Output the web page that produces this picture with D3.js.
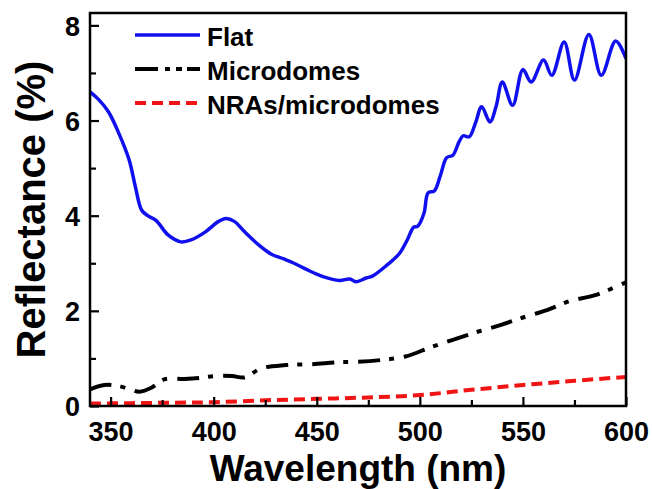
<!DOCTYPE html>
<html>
<head>
<meta charset="utf-8">
<script src="https://cdn.jsdelivr.net/npm/d3@7"></script>
<style>
  body { margin: 0; background: #fff; }
  svg text { font-family: "Liberation Sans", Arial, sans-serif; font-weight: bold; fill: #000; }
</style>
</head>
<body>
<svg id="chart"></svg>
<script>
// data
const flatWl = [340, 344, 349, 354, 359, 362, 365, 368, 372, 378, 384, 389, 396, 402, 406, 410, 415, 422, 428, 434, 439, 445, 453, 461, 466, 469, 474, 477, 484, 490, 494, 497, 499, 502, 504, 507, 510, 513, 516, 519, 521, 524, 527, 530, 534, 537, 540, 545, 550, 554, 560, 564, 570, 575, 582, 588, 595, 600];
const flatR  = [6.6, 6.45, 6.18, 5.73, 5.17, 4.61, 4.12, 4.0, 3.9, 3.59, 3.45, 3.49, 3.66, 3.87, 3.94, 3.88, 3.66, 3.38, 3.19, 3.09, 3.0, 2.87, 2.72, 2.64, 2.67, 2.61, 2.69, 2.73, 2.96, 3.2, 3.5, 3.76, 3.78, 4.05, 4.48, 4.52, 4.85, 5.22, 5.27, 5.55, 5.68, 5.66, 5.95, 6.29, 5.97, 6.3, 6.81, 6.32, 7.07, 6.81, 7.27, 6.95, 7.65, 6.85, 7.81, 6.95, 7.67, 7.3];

const microWl = [340, 347, 354, 360, 364, 370, 376, 386, 393, 401, 409, 415, 423, 435, 448, 460, 470, 482, 493, 505, 516, 528, 539, 550, 562, 573, 585, 600];
const microR  = [0.35, 0.44, 0.42, 0.34, 0.3, 0.39, 0.56, 0.57, 0.59, 0.63, 0.63, 0.6, 0.79, 0.86, 0.88, 0.92, 0.93, 0.97, 1.04, 1.23, 1.39, 1.56, 1.7, 1.86, 2.02, 2.21, 2.33, 2.6];

const nraWl = [340, 360, 380, 400, 425, 450, 475, 500, 525, 550, 575, 600];
const nraR  = [0.05, 0.06, 0.07, 0.08, 0.12, 0.15, 0.18, 0.23, 0.34, 0.44, 0.53, 0.61];

const seriesNames = ["Flat", "Microdomes", "NRAs/microdomes"];
const xMajor = [350, 400, 450, 500, 550, 600];
const xMinor = [375, 425, 475, 525, 575];
const yMajor = [0, 2, 4, 6, 8];
const yMinor = [1, 3, 5, 7];

const w = 652, h = 489;
const margin = { top: 13, right: 26, bottom: 83, left: 90 };

const svg = d3.select("#chart").attr("width", w).attr("height", h);

const xScale = d3.scaleLinear().domain([340, 600]).range([margin.left, w - margin.right]);
const yScale = d3.scaleLinear().domain([0, 8.26]).range([h - margin.bottom, margin.top]);

const series = [
  { name: seriesNames[0], wl: flatWl, r: flatR, color: "#1010ee", width: 3.5, dash: null, legendDash: null },
  { name: seriesNames[1], wl: microWl, r: microR, color: "#000", width: 4, dash: "22,9,5,10", legendDash: "23,7,5,6,6,5,30" },
  { name: seriesNames[2], wl: nraWl, r: nraR, color: "#f01414", width: 4, dash: "11,6", legendDash: "11,6" }
];

svg.append("clipPath").attr("id", "plotClip")
  .append("rect")
    .attr("x", margin.left).attr("y", margin.top)
    .attr("width", w - margin.left - margin.right)
    .attr("height", h - margin.top - margin.bottom);

const line = d3.line()
  .x(d => xScale(d[0]))
  .y(d => yScale(d[1]))
  .curve(d3.curveCatmullRom.alpha(0.5));

const plot = svg.append("g").attr("clip-path", "url(#plotClip)");
series.forEach(s => {
  plot.append("path")
    .datum(s.wl.map((v, i) => [v, s.r[i]]))
    .attr("fill", "none")
    .attr("stroke", s.color)
    .attr("stroke-width", s.width)
    .attr("stroke-dasharray", s.dash)
    .attr("stroke-linejoin", "round")
    .attr("d", line);
});

// x axis, ticks pointing inward
const yBottom = h - margin.bottom;
svg.append("g")
  .attr("transform", `translate(0,${yBottom})`)
  .call(d3.axisBottom(xScale).tickValues(xMinor).tickSize(-6).tickFormat(""))
  .call(g => g.select(".domain").remove())
  .call(g => g.selectAll("line").attr("stroke-width", 2.2));

svg.append("g")
  .attr("transform", `translate(0,${yBottom})`)
  .call(d3.axisBottom(xScale).tickValues(xMajor).tickSize(-9))
  .call(g => g.select(".domain").remove())
  .call(g => g.selectAll("line").attr("stroke-width", 2.2))
  .call(g => g.selectAll("text")
    .attr("y", 35).attr("dy", null)
    .style("font-size", "27px"));

// y axis
svg.append("g")
  .attr("transform", `translate(${margin.left},0)`)
  .call(d3.axisLeft(yScale).tickValues(yMinor).tickSize(-6).tickFormat(""))
  .call(g => g.select(".domain").remove())
  .call(g => g.selectAll("line").attr("stroke-width", 2.2));

svg.append("g")
  .attr("transform", `translate(${margin.left},0)`)
  .call(d3.axisLeft(yScale).tickValues(yMajor).tickSize(-9).tickPadding(10))
  .call(g => g.select(".domain").remove())
  .call(g => g.selectAll("line").attr("stroke-width", 2.2))
  .call(g => g.selectAll("text")
    .attr("dy", "0.36em")
    .style("font-size", "27px"));

// frame
svg.append("rect")
  .attr("x", margin.left).attr("y", margin.top)
  .attr("width", w - margin.left - margin.right)
  .attr("height", h - margin.top - margin.bottom)
  .attr("fill", "none")
  .attr("stroke", "#000")
  .attr("stroke-width", 2.5);

// axis titles
svg.append("text")
  .attr("x", (margin.left + w - margin.right) / 2)
  .attr("y", 481)
  .attr("text-anchor", "middle")
  .style("font-size", "37px")
  .text("Wavelength (nm)");

svg.append("text")
  .attr("transform", `translate(45,${(margin.top + h - margin.bottom) / 2}) rotate(-90)`)
  .attr("text-anchor", "middle")
  .style("font-size", "40px")
  .text("Reflectance (%)");

// legend
const legend = svg.append("g").attr("transform", "translate(135,35)");
series.forEach((s, i) => {
  const row = legend.append("g").attr("transform", `translate(0,${i * 34})`);
  row.append("line")
    .attr("x1", 0).attr("x2", 65)
    .attr("y1", 0).attr("y2", 0)
    .attr("stroke", s.color)
    .attr("stroke-width", s.width)
    .attr("stroke-dasharray", s.legendDash);
  row.append("text")
    .attr("x", 72).attr("y", 11)
    .style("font-size", "26px")
    .text(s.name);
});
</script>
</body>
</html>
